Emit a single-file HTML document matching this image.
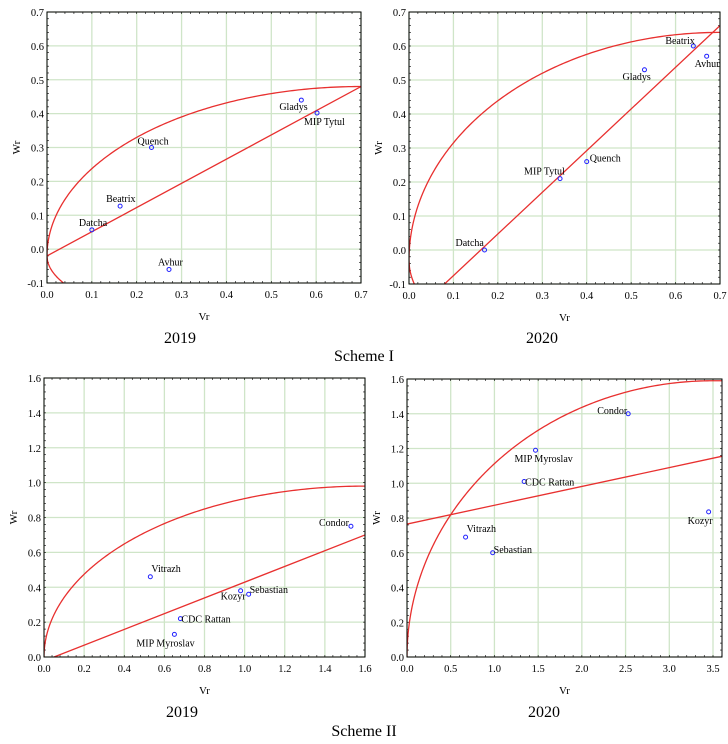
<!DOCTYPE html>
<html><head><meta charset="utf-8"><style>
body{margin:0;background:#fff;}
svg{display:block;font-family:"Liberation Serif",serif;}
</style></head><body>
<svg id="s" width="728" height="744" xmlns="http://www.w3.org/2000/svg">
<text x="180" y="343" font-size="16" text-anchor="middle">2019</text>
<text x="542" y="343" font-size="16" text-anchor="middle">2020</text>
<text x="364" y="361" font-size="16" text-anchor="middle">Scheme I</text>
<text x="182" y="717" font-size="16" text-anchor="middle">2019</text>
<text x="544" y="717" font-size="16" text-anchor="middle">2020</text>
<text x="364" y="736" font-size="16" text-anchor="middle">Scheme II</text>
</svg>
<script>
const S=document.getElementById('s');let h='';
function ell(xm,yc,bu,bl,lowOnly){const pts=[];const N=200;
 if(bl>0){for(let i=N;i>=1;i--){const x=xm*i/N*0.3;const t=1-x/xm;pts.push([x,yc-bl*Math.sqrt(Math.max(0,1-t*t))]);}}
 for(let i=0;i<=N;i++){const x=xm*Math.pow(i/N,2);const t=1-x/xm;pts.push([x,yc+bu*Math.sqrt(Math.max(0,1-t*t))]);}
 return pts;}
function panel(P){
 const X=v=>P.x0+(v-P.xmin)/(P.xmax-P.xmin)*(P.x1-P.x0);
 const Y=v=>P.y1-(v-P.ymin)/(P.ymax-P.ymin)*(P.y1-P.y0);
 h+=`<rect x="${P.x0}" y="${P.y0}" width="${P.x1-P.x0}" height="${P.y1-P.y0}" fill="#fff"/>`;
 for(let v=P.xmin;v<=P.xmax+1e-9;v+=P.xs){const x=X(v);h+=`<line x1="${x}" x2="${x}" y1="${P.y0}" y2="${P.y1}" stroke="#cfe5c8" stroke-width="1.3"/>`;h+=`<text x="${x}" y="${P.y1+15}" font-size="10.5" text-anchor="middle">${v.toFixed(1)}</text>`;}
 for(let v=P.ymin;v<=P.ymax+1e-9;v+=P.ys){const y=Y(v);h+=`<line x1="${P.x0}" x2="${P.x1}" y1="${y}" y2="${y}" stroke="#cfe5c8" stroke-width="1.3"/>`;h+=`<text x="${P.x0-3}" y="${y+4}" font-size="10.5" text-anchor="end">${v.toFixed(1)}</text>`;}
 for(let v=P.xmin;v<=P.xmax+1e-9;v+=P.xs/5){const x=X(v);h+=`<line x1="${x}" x2="${x}" y1="${P.y0}" y2="${P.y0+2}" stroke="#000" stroke-width="0.6"/><line x1="${x}" x2="${x}" y1="${P.y1}" y2="${P.y1-2}" stroke="#000" stroke-width="0.6"/>`;}
 for(let v=P.ymin;v<=P.ymax+1e-9;v+=P.ys/5){const y=Y(v);h+=`<line x1="${P.x0}" x2="${P.x0+2}" y1="${y}" y2="${y}" stroke="#000" stroke-width="0.6"/><line x1="${P.x1}" x2="${P.x1-2}" y1="${y}" y2="${y}" stroke="#000" stroke-width="0.6"/>`;}
 h+=`<clipPath id="c${P.id}"><rect x="${P.x0}" y="${P.y0}" width="${P.x1-P.x0}" height="${P.y1-P.y0}"/></clipPath><g clip-path="url(#c${P.id})">`;
 h+=`<polyline points="${P.curve.map(p=>X(p[0]).toFixed(2)+','+Y(p[1]).toFixed(2)).join(' ')}" fill="none" stroke="#e8302f" stroke-width="1.3"/>`;
 h+=`<line x1="${X(P.line[0])}" y1="${Y(P.line[1])}" x2="${X(P.line[2])}" y2="${Y(P.line[3])}" stroke="#e8302f" stroke-width="1.3"/></g>`;
 h+=`<rect x="${P.x0}" y="${P.y0}" width="${P.x1-P.x0}" height="${P.y1-P.y0}" fill="none" stroke="#000" stroke-width="1"/>`;
 for(const p of P.pts){const x=X(p[0]),y=Y(p[1]);h+=`<circle cx="${x}" cy="${y}" r="2" fill="none" stroke="#2020ff" stroke-width="1"/>`;h+=`<text x="${x+p[3]}" y="${y+p[4]}" font-size="10" text-anchor="start">${p[2]}</text>`;}
 const cx=(P.x0+P.x1)/2;h+=`<text x="${cx}" y="${P.y1+37}" font-size="11" text-anchor="middle">Vr</text>`;
 const cy=(P.y0+P.y1)/2;h+=`<text x="${P.x0-27}" y="${cy}" font-size="11" text-anchor="middle" transform="rotate(-90 ${P.x0-27} ${cy})">Wr</text>`;
}
panel({id:1,x0:47,x1:361,y0:12,y1:283,xmin:0,xmax:0.7,xs:0.1,ymin:-0.1,ymax:0.7,ys:0.1,
 curve:ell(0.7,-0.02,0.5,0.25),
 line:[0,-0.02,0.7,0.48],
 pts:[[0.1,0.057,'Datcha',-13,-4],[0.163,0.127,'Beatrix',-14,-4],[0.233,0.3,'Quench',-14,-3],[0.272,-0.06,'Avhur',-11,-4],[0.567,0.44,'Gladys',-22,10],[0.602,0.402,'MIP Tytul',-13,12]]});
panel({id:2,x0:409,x1:720,y0:12,y1:284,xmin:0,xmax:0.7,xs:0.1,ymin:-0.1,ymax:0.7,ys:0.1,
 curve:ell(0.7,-0.03,0.67,0.38),
 line:[0.08,-0.1,0.7,0.66],
 pts:[[0.17,0.0,'Datcha',-29,-4],[0.34,0.21,'MIP Tytul',-36,-4],[0.4,0.26,'Quench',3,0],[0.53,0.53,'Gladys',-22,10],[0.64,0.6,'Beatrix',-28,-2],[0.67,0.57,'Avhur',-12,11]]});
panel({id:3,x0:44,x1:365,y0:378,y1:657,xmin:0,xmax:1.6,xs:0.2,ymin:0,ymax:1.6,ys:0.2,
 curve:ell(1.6,0,0.98,0),
 line:[0.05,0,1.6,0.7],
 pts:[[0.53,0.46,'Vitrazh',1,-5],[0.68,0.22,'CDC Rattan',1,4],[0.65,0.13,'MIP Myroslav',-38,12],[0.98,0.38,'Kozyr',-20,9],[1.02,0.36,'Sebastian',1,-1],[1.53,0.75,'Condor',-32,0]]});
panel({id:4,x0:407,x1:722,y0:379,y1:657,xmin:0,xmax:3.5*315/306,xs:0.5,ymin:0,ymax:1.6,ys:0.2,
 curve:ell(3.5,0,1.59,0).concat([[3.7,1.59]]),
 line:[0,0.765,3.6,1.155],
 pts:[[0.67,0.69,'Vitrazh',1,-5],[0.98,0.6,'Sebastian',1,0],[1.34,1.01,'CDC Rattan',1,4],[1.47,1.19,'MIP Myroslav',-21,12],[2.53,1.4,'Condor',-31,0],[3.45,0.835,'Kozyr',-21,12]]});
S.insertAdjacentHTML('afterbegin',h);
</script>
</body></html>
